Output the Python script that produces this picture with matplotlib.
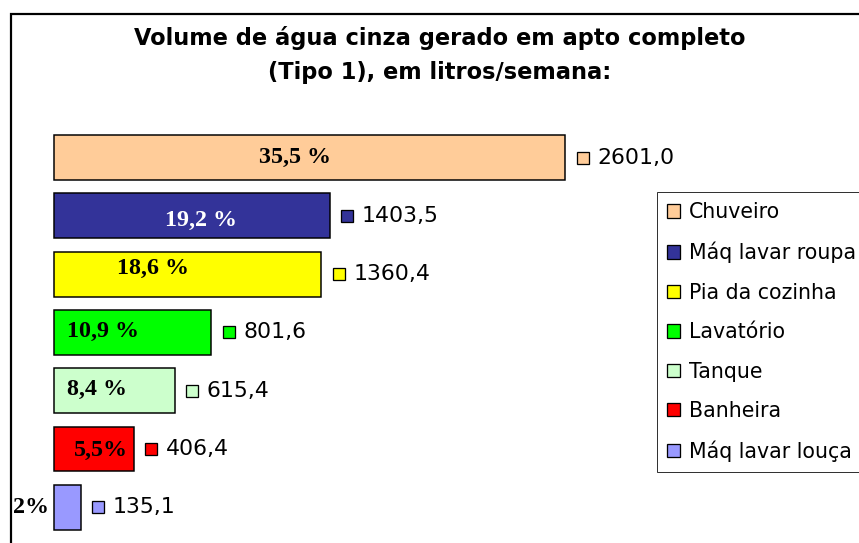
import matplotlib
matplotlib.use("Agg")
import matplotlib.pyplot as plt
from matplotlib.patches import Patch, Rectangle
import matplotlib.transforms as mtransforms

categories = ["Chuveiro", "Máq lavar roupa", "Pia da cozinha", "Lavatório",
              "Tanque", "Banheira", "Máq lavar louça"]
values = [2601.0, 1403.5, 1360.4, 801.6, 615.4, 406.4, 135.1]
value_labels = ["2601,0", "1403,5", "1360,4", "801,6", "615,4", "406,4", "135,1"]
pct_labels = ["35,5 %", "19,2 %", "18,6 %", "10,9 %", "8,4 %", "5,5%", "2%"]
colors = ["#FFCC99", "#333399", "#FFFF00", "#00FF00", "#CCFFCC", "#FF0000", "#9999FF"]
pct_colors = ["black", "white", "black", "black", "black", "black", "black"]
title = "Volume de água cinza gerado em apto completo\n(Tipo 1), em litros/semana:"

W, H = 859, 543
DPI = 72
fig = plt.figure(figsize=(W / DPI, H / DPI), dpi=DPI)
fig.patch.set_facecolor("white")

# outer chart frame
fig.patches.append(Rectangle((10.5 / W, 0 - 0.1), 1.2, 1 - 13.5 / H + 0.1,
                             transform=fig.transFigure, fill=False,
                             edgecolor="black", linewidth=2.2, zorder=0))

ax = fig.add_axes([0, 0, 1, 1])
ax.set_facecolor("none")
x0_px = 54.0
px_per_unit = (565.0 - 54.0) / 2601.0
ax.set_xlim(-x0_px / px_per_unit, (W - x0_px) / px_per_unit)
row_px = 58.3
first_px = 157.5
ax.set_ylim((H - first_px) / row_px, -first_px / row_px)
ax.axis("off")

ypos = list(range(len(categories)))
ax.barh(ypos, values, height=0.77, color=colors, edgecolor="black", linewidth=1.5)

# value labels: small square marker + number
for y, v, lab, c in zip(ypos, values, value_labels, colors):
    mt = mtransforms.offset_copy(ax.transData, fig=fig, x=17.5, y=0, units="dots")
    ax.plot([v], [y], marker="s", markersize=12.5, markerfacecolor=c,
            markeredgecolor="black", markeredgewidth=1.3, transform=mt, clip_on=False)
    tt = mtransforms.offset_copy(ax.transData, fig=fig, x=32, y=0, units="dots")
    ax.text(v, y, lab, transform=tt, ha="left", va="center", fontsize=22,
            family="DejaVu Sans")

# percent labels (x position in data units of the bar, y offset in rows)
pct_x = [1228, 746, 502, 250, 219, 240, -118]
pct_dy = [0.0, 0.08, -0.1, -0.02, -0.02, 0.02, 0.0]
for y, lab, c, px, dy in zip(ypos, pct_labels, pct_colors, pct_x, pct_dy):
    ax.text(px, y + dy, lab, ha="center", va="center", fontsize=24,
            fontweight="bold", family="Liberation Serif", color=c)

fig.text(440 / W, 1 - 55 / H, title, ha="center", va="center", fontsize=22.5,
         fontweight="bold", family="DejaVu Sans", linespacing=1.6)

handles = [Patch(facecolor=c, edgecolor="black", linewidth=1.3) for c in colors]
leg = fig.legend(handles, categories, loc="upper left",
                 bbox_to_anchor=(657 / W, 1 - 192 / H), frameon=True,
                 fancybox=False, edgecolor="black",
                 prop={"family": "DejaVu Sans", "size": 20.5},
                 handlelength=0.61, handleheight=0.61, handletextpad=0.45,
                 labelspacing=0.95, borderpad=0.5, borderaxespad=0.0)
leg.get_frame().set_linewidth(1.0)

fig.savefig("out.png", dpi=DPI, facecolor="white")
